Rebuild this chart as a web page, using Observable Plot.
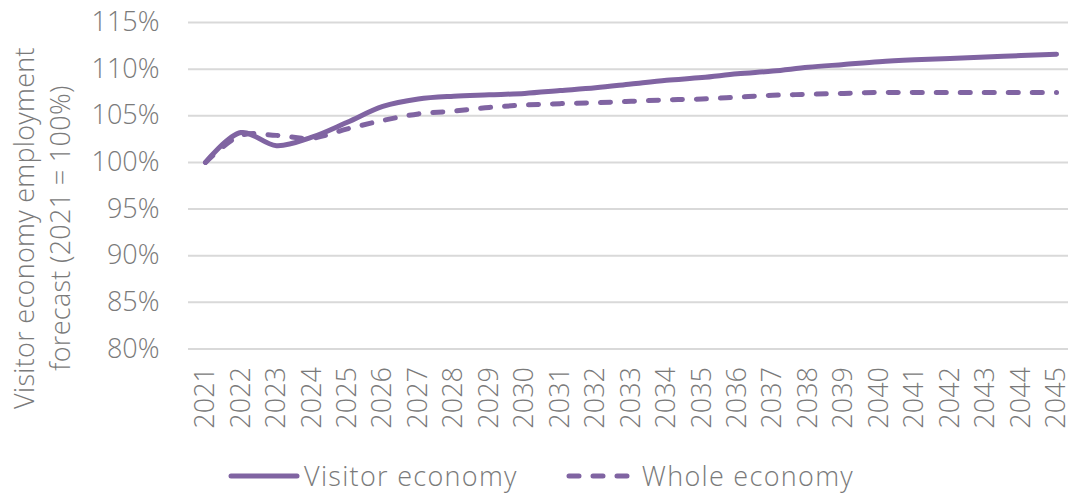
<!DOCTYPE html>
<html>
<head>
<meta charset="utf-8">
<script src="https://cdn.jsdelivr.net/npm/d3@7"></script>
<script src="https://cdn.jsdelivr.net/npm/@observablehq/plot@0.6"></script>
<style>
  html, body { margin: 0; padding: 0; background: #fff; overflow: hidden; }
  #wrap { position: relative; width: 1068px; height: 496px; font-family: "Open Sans", sans-serif; font-weight: 300; color: #7a7a7a; }
  #ylabel { position: absolute; left: 42px; top: 228px; width: 420px; transform: translate(-50%, -50%) rotate(-90deg);
            text-align: center; font-size: 27px; line-height: 36px; white-space: nowrap; letter-spacing: 0.3px; }
  #legend { position: absolute; left: 0; top: 457px; width: 1068px; display: flex; justify-content: flex-start; align-items: center;
            font-size: 27px; letter-spacing: 1.3px; }
  .item { display: flex; align-items: center; }
  svg text { font-weight: 300; }
</style>
</head>
<body>
<div id="wrap">
  <div id="chart"></div>
  <div id="ylabel"></div>
  <div id="legend"></div>
</div>
<script>
const years = [2021, 2022, 2023, 2024, 2025, 2026, 2027, 2028, 2029, 2030, 2031, 2032, 2033,
               2034, 2035, 2036, 2037, 2038, 2039, 2040, 2041, 2042, 2043, 2044, 2045];
const visitorEconomy = [100, 103.2, 101.8, 102.7, 104.3, 106.0, 106.8, 107.1, 107.25, 107.4, 107.7, 108.0, 108.4,
                        108.8, 109.1, 109.5, 109.8, 110.2, 110.5, 110.8, 111.0, 111.15, 111.3, 111.45, 111.6];
const wholeEconomy = [100, 102.9, 102.9, 102.6, 103.6, 104.5, 105.2, 105.5, 105.9, 106.15, 106.3, 106.4, 106.55,
                      106.7, 106.8, 107.0, 107.2, 107.3, 107.4, 107.5, 107.5, 107.5, 107.5, 107.5, 107.5];
const seriesNames = ["Visitor economy", "Whole economy"];
const yTicks = [80, 85, 90, 95, 100, 105, 110, 115];
const yLabelLines = ["Visitor economy employment", "forecast (2021 = 100%)"];

const color = "#8064A2";
const visitorData = years.map((y, i) => ({year: y, value: visitorEconomy[i]}));
const wholeData = years.map((y, i) => ({year: y, value: wholeEconomy[i]}));

const chart = Plot.plot({
  width: 1068,
  height: 450,
  marginLeft: 188,
  marginRight: 0,
  marginTop: 22,
  marginBottom: 101.5,
  style: {fontFamily: "'Open Sans', sans-serif", fontSize: "27px", color: "#7a7a7a", background: "#fff"},
  x: {type: "linear", domain: [2020.5206, 2045.338]},
  y: {domain: [80, 115]},
  marks: [
    Plot.gridY(yTicks, {stroke: "#d9d9d9", strokeOpacity: 1, strokeWidth: 2}),
    Plot.axisY({ticks: yTicks, tickSize: 0, tickPadding: 29, tickFormat: d => d + "%", label: null}),
    Plot.axisX({ticks: years, tickSize: 0, tickPadding: 18, tickRotate: -90, tickFormat: d => String(d), label: null}),
    Plot.line(visitorData, {x: "year", y: "value", stroke: color, strokeWidth: 5, curve: "catmull-rom", strokeLinecap: "round"}),
    Plot.line(wholeData, {x: "year", y: "value", stroke: color, strokeWidth: 5, curve: "catmull-rom",
      strokeDasharray: "10,14", strokeLinecap: "round"})
  ]
});
document.getElementById("chart").appendChild(chart);

document.getElementById("ylabel").innerHTML = yLabelLines.join("<br>");

const legend = document.getElementById("legend");
const swatches = [
  {name: seriesNames[0], dash: null, ml: 228, w: 72},
  {name: seriesNames[1], dash: "10,14", ml: 48, w: 72}
];
swatches.forEach(s => {
  const item = document.createElement("div");
  item.className = "item";
  item.style.marginLeft = s.ml + "px";
  item.innerHTML = `<svg width="${s.w}" height="10"><line x1="3" y1="5" x2="${s.w - 3}" y2="5" stroke="${color}" stroke-width="5" stroke-linecap="round" ${s.dash ? `stroke-dasharray="${s.dash}"` : ""}/></svg><span style="margin-left:4px">${s.name}</span>`;
  legend.appendChild(item);
});
</script>
</body>
</html>
